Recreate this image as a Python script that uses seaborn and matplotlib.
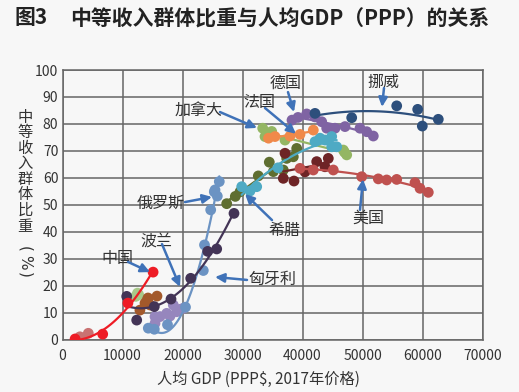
import numpy as np
import pandas as pd
import matplotlib
matplotlib.use("Agg")
from matplotlib import pyplot as plt
import seaborn as sns

# 数据: 人均GDP(PPP$), 中等收入群体比重(%)
china_x = [2100, 6700, 10900, 15100]
china_y = [0.2, 2.0, 13.5, 25.0]
india_x = [2900, 4300]
india_y = [1.0, 2.3]
green_low_x = [12200, 12500, 12700]
green_low_y = [16.0, 17.2, 16.6]
brown_x = [12900, 13750, 14150, 14250, 14600, 15750]
brown_y = [10.9, 13.5, 14.7, 15.4, 12.8, 16.1]
poland_x = [10700, 12367, 15300, 18083, 21367, 24200, 25700, 28583]
poland_y = [16.0, 7.2, 12.2, 15.0, 22.7, 32.7, 33.6, 46.8]
russia_x = [14300, 15300, 17500, 20500, 23467, 23667, 24700, 25300, 25417, 25800, 26133]
russia_y = [4.2, 3.8, 5.5, 12.0, 25.6, 35.1, 48.1, 54.8, 55.5, 53.2, 58.6]
hungary_x = [15417, 15417, 16250, 17367, 17917, 18467, 19033, 19583, 20133]
hungary_y = [6.0, 8.5, 8.5, 9.7, 8.7, 12.8, 10.3, 11.2, 11.6]
greece_x = [29867, 31250, 32367, 35917, 42083, 42917, 43750, 44867, 44867, 45700]
greece_y = [56.7, 55.1, 56.7, 63.7, 73.4, 74.7, 74.0, 75.3, 71.5, 71.5]
olive_x = [27367, 28800, 29583, 32633, 34467, 35133, 36800, 37367, 38467, 39033]
olive_y = [50.4, 53.1, 54.8, 60.7, 65.8, 62.3, 62.9, 67.2, 67.8, 70.9]
maroon_x = [36800, 37083, 38583, 40417, 42367, 43750, 44300]
maroon_y = [59.8, 69.1, 58.8, 62.2, 66.0, 64.1, 67.2]
usa_x = [39583, 41800, 45133, 49867, 52633, 54033, 55700, 58750, 59583, 60967]
usa_y = [63.5, 62.9, 62.9, 60.4, 59.6, 59.2, 59.4, 58.2, 56.1, 54.6]
norway_x = [42083, 48200, 55700, 59200, 59967, 62633]
norway_y = [83.9, 82.3, 86.7, 85.4, 79.2, 81.7]
germany_x = [38250, 39250, 40700, 42083, 43200, 44033, 45417, 47083, 49583, 50700, 51800]
germany_y = [81.4, 82.4, 83.7, 82.6, 80.8, 78.4, 78.4, 79.0, 78.4, 77.1, 75.5]
france_x = [34333, 35417, 37917, 39583, 41800]
france_y = [74.7, 75.3, 75.5, 76.1, 77.7]
canada_x = [33367, 33750, 34867, 37083, 46800, 47000, 47367]
canada_y = [78.4, 75.3, 77.2, 74.0, 70.3, 69.5, 68.5]

x_ticks = list(range(0, 70001, 10000))
y_ticks = list(range(0, 101, 10))

# 标注: 文字, 文字位置, 箭头尾, 箭头头
labels = [
    ("德国", (37250, 95.2), (37583, 91.8), (38583, 84.4)),
    ("挪威", (53417, 95.5), (53583, 93.3), (53250, 86.3)),
    ("法国", (32750, 87.8), (33750, 85.9), (38917, 76.3)),
    ("加拿大", (22750, 85.2), (26250, 84.4), (32417, 78.5)),
    ("俄罗斯", (16417, 50.6), (20417, 51.0), (24917, 52.9)),
    ("波兰", (15583, 36.5), (16583, 35.4), (19583, 19.5)),
    ("中国", (9083, 30.2), (10917, 28.8), (14583, 25.0)),
    ("匈牙利", (34917, 22.1), (30750, 22.1), (25417, 23.2)),
    ("希腊", (36917, 40.6), (34917, 44.3), (30417, 54.0)),
    ("美国", (50917, 45.1), (49583, 48.1), (50083, 59.5)),
]

# (x, y, 颜色, 趋势线阶数 None=无线)
series = [
    (india_x, india_y, "#c97272", None),
    (green_low_x, green_low_y, "#a8c98a", None),
    (brown_x, brown_y, "#a3592b", None),
    (hungary_x, hungary_y, "#9686bd", 1),
    (russia_x, russia_y, "#6b93c3", 2),
    (poland_x, poland_y, "#433456", 2),
    (canada_x, canada_y, "#94b663", 1),
    (germany_x, germany_y, "#7f63a3", 2),
    (norway_x, norway_y, "#2d4f7c", 2),
    (olive_x, olive_y, "#5f6e30", 1),
    (greece_x, greece_y, "#4eaac4", 2),
    (france_x, france_y, "#f0894a", 1),
    (maroon_x, maroon_y, "#6e2426", 1),
    (usa_x, usa_y, "#bf514f", 2),
    (china_x, china_y, "#ee1c25", 2),
]

sns.set_theme(style="white")
plt.rcParams["font.family"] = ["Noto Sans CJK SC", "DejaVu Sans"]

bg = "#f7f7f7"
fig = plt.figure(figsize=(5.19, 3.92), dpi=100, facecolor=bg)
ax = fig.add_axes([62.5 / 519, 52.5 / 392, 420 / 519, 269.5 / 392])
ax.set_facecolor(bg)

for sx, sy, col, order in series:
    df = pd.DataFrame({"x": sx, "y": sy})
    if order is None:
        sns.scatterplot(data=df, x="x", y="y", color=col, s=60, edgecolor="none", ax=ax, zorder=3)
    else:
        sns.regplot(data=df, x="x", y="y", order=order, ci=None, ax=ax, color=col,
                    scatter_kws=dict(s=60, edgecolor="none", alpha=1, zorder=3),
                    line_kws=dict(lw=1.6, zorder=3))

for txt, pos, tail, head in labels:
    ax.text(pos[0], pos[1], txt, fontsize=11.5, color="#333333", ha="center", va="center", zorder=5)
    ax.annotate("", xy=head, xytext=tail,
                arrowprops=dict(arrowstyle="-|>,head_length=0.45,head_width=0.22",
                                color="#3f72b8", lw=1.8, shrinkA=0, shrinkB=0), zorder=5)

ax.set_xlim(0, 70000)
ax.set_ylim(0, 100)
ax.set_xticks(x_ticks)
ax.set_yticks(y_ticks)
ax.set_xticklabels([str(v) for v in x_ticks])
ax.set_yticklabels([str(v) for v in y_ticks])
ax.grid(True, color="#666666", lw=1.1)
ax.set_axisbelow(True)
for sp in ax.spines.values():
    sp.set_color("#666666")
    sp.set_linewidth(1.1)
ax.tick_params(length=0, labelsize=10, colors="#333333")
ax.tick_params(axis="x", pad=7)
ax.tick_params(axis="y", pad=3)
ax.set_xlabel("")
ax.set_ylabel("")

fig.text(14 / 519, 1 - 18 / 392, "图3", fontsize=15, fontweight="bold",
         color="#222222", ha="left", va="center")
fig.text(70 / 519, 1 - 18 / 392, "中等收入群体比重与人均GDP（PPP）的关系",
         fontsize=15, fontweight="bold", color="#222222", ha="left", va="center")
fig.text(258 / 519, 1 - 379 / 392, "人均 GDP (PPP$, 2017年价格)", fontsize=11,
         color="#333333", ha="center", va="center")

ylab = "中等收入群体比重"
for i, ch in enumerate(ylab):
    fig.text(25 / 519, 1 - (117 + i * 15.6) / 392, ch, fontsize=11, color="#333333",
             ha="center", va="center")
for i, ch in enumerate(["(", "%", ")"]):
    fig.text(25 / 519, 1 - (249 + i * 13) / 392, ch, fontsize=11, color="#333333",
             ha="center", va="center", rotation=-90, family="DejaVu Sans")

fig.savefig("out.png", dpi=100, facecolor=bg)
